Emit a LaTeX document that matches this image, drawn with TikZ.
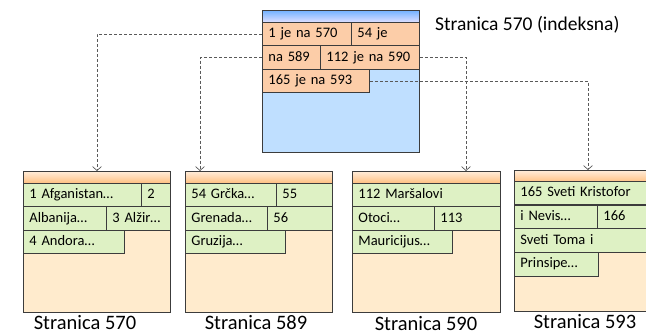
\documentclass[tikz,border=0pt]{standalone}
\usepackage{fontspec}
\setmainfont{Carlito}
\usetikzlibrary{arrows.meta}
\definecolor{idxbody}{HTML}{BFDFFF}
\definecolor{idxcell}{HTML}{FCCDA8}
\definecolor{leafbody}{HTML}{FFEBCD}
\definecolor{leafcell}{HTML}{DEF1C4}
\definecolor{frame}{HTML}{3C3C3C}
\tikzset{page/.style={draw=frame,line width=0.9pt,fill=#1,anchor=north west,inner sep=0pt}}
\tikzset{hdr/.style 2 args={draw=frame,line width=0.8pt,top color=#1,bottom color=#2,anchor=north west,inner sep=0pt,minimum height=12pt}}
\tikzset{cell/.style={draw=frame,line width=0.8pt,fill=#1,anchor=north west,inner xsep=6pt,inner ysep=0pt,
    text height=10.5pt,text depth=3.5pt,align=left,font={\fontsize{14.5pt}{17pt}\selectfont}}}
\tikzset{ptr/.style={draw=black!65,line width=0.7pt,dash pattern=on 3pt off 2pt,-{Straight Barb[length=4pt,width=9pt]}}}
\tikzset{caption/.style={anchor=base,inner sep=0pt,font={\fontsize{20.5pt}{24pt}\selectfont}}}

\begin{document}
\begin{tikzpicture}[x=1pt,y=-1pt]
    \useasboundingbox (0,0) rectangle (646,336);
    \clip (0,0) rectangle (646,336);
    % index page
    \node[page=idxbody,minimum width=157pt,minimum height=142pt] (p570) at (262,10) {};
    \node[hdr={blue!55!cyan!55}{blue!12},minimum width=157pt] (h570) at (262,10) {};
    \foreach \n/\x/\y/\w/\t in {k1/262/22/89/1 je na 570, k2/351/22/68/54 je, k3/262/45.5/58/na 589,
            k4/320/45.5/99/112 je na 590, k5/262/69/107/165 je na 593}{
        \pgfmathsetmacro\tw{\w-12}
        \node[cell=idxcell,text width=\tw pt,minimum height=23.5pt] (\n) at (\x,\y) {\mbox{\t}};
    }
    \node[anchor=west,inner sep=0pt,font={\fontsize{19.5pt}{22pt}\selectfont}] (title) at (435,25) {Stranica 570 (indeksna)};
    % leaf pages
    \foreach \p/\x/\y/\w in {570/23/171/147, 589/185/171/147, 590/352/171/148, 593/514/170/160}{
        \node[page=leafbody,minimum width=\w pt,minimum height=141pt] (p\p) at (\x,\y) {};
        \node[hdr={orange!15}{orange!50},minimum width=\w pt] (h\p) at (\x,\y) {};
    }
    \foreach \n/\x/\y/\w/\t in {a1/23/183/118/1 Afganistan…, a2/141/183/29/2, a3/23/206.5/83/Albanija…,
            a4/106/206.5/64/3 Alžir…, a5/23/230/101/4 Andora…,
            b1/185/183/91/54 Grčka…, b2/276/183/56/55, b3/185/206.5/82/Grenada…,
            b4/267/206.5/65/56, b5/185/230/100/Gruzija…,
            c1/352/183/148/112 Maršalovi, c2/352/206.5/82/Otoci…, c3/434/206.5/66/113,
            c4/352/230/100/Mauricijus…,
            d1/514/181/160/165 Sveti Kristofor, d2/514/204.75/83/i Nevis…, d3/597/204.75/77/166,
            d4/514/228.5/160/Sveti Toma i, d5/514/252.25/84/Prinsipe…}{
        \pgfmathsetmacro\tw{\w-12}
        \node[cell=leafcell,text width=\tw pt,minimum height=23.5pt] (\n) at (\x,\y) {\mbox{\t}};
    }
    \node[caption] (l570) at (85,330) {Stranica 570};
    \node[caption] (l589) at (256,330) {Stranica 589};
    \node[caption] (l590) at (426,331) {Stranica 590};
    \node[caption] (l593) at (585,329) {Stranica 593};
    % pointers
    \coordinate (in570) at (97,171);
    \coordinate (in589) at (200,171);
    \coordinate (in590) at (466,171);
    \coordinate (in593) at (588,170);
    \draw[ptr] (k1.west) -| (in570);
    \draw[ptr] (k3.west) -| (in589);
    \draw[ptr] (k4.east) -| (in590);
    \draw[ptr] (k5.east) -| (in593);
\end{tikzpicture}
\end{document}
